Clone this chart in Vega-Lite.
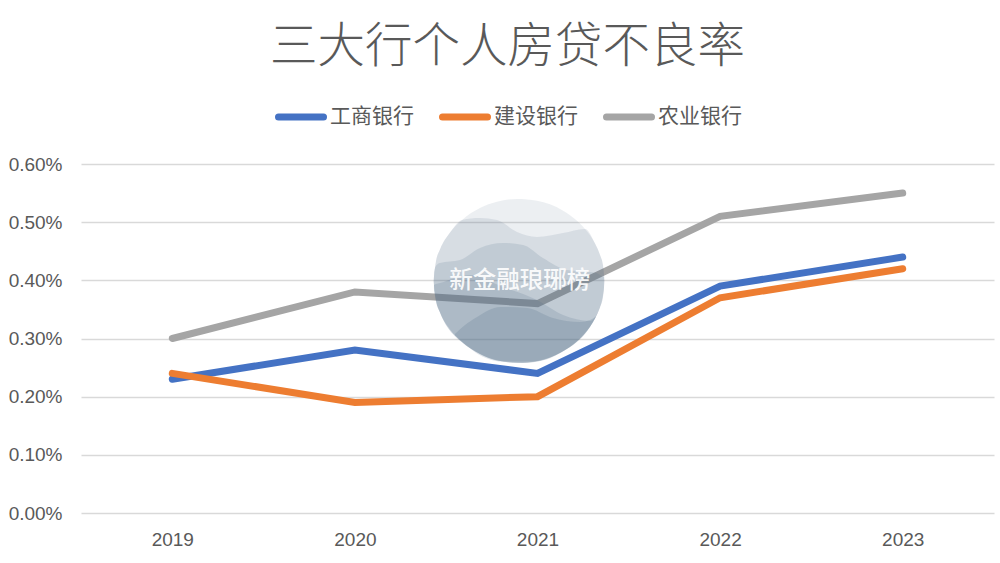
{"$schema":"https://vega.github.io/schema/vega-lite/v6.json","width":913,"height":349,"autosize":{"type":"none"},"padding":{"left":81,"top":164,"right":6,"bottom":50},"background":"white",
"title":{"text":"三大行个人房贷不良率","font":"Noto Sans CJK SC","fontSize":47.5,"fontWeight":300,"color":"#595959","anchor":"middle","dx":-30,"offset":20},
"config":{"view":{"stroke":null}},
"datasets":{
"series":[
{"year":2019,"bank":"工商银行","rate":0.23},{"year":2020,"bank":"工商银行","rate":0.28},{"year":2021,"bank":"工商银行","rate":0.24},{"year":2022,"bank":"工商银行","rate":0.39},{"year":2023,"bank":"工商银行","rate":0.44},
{"year":2019,"bank":"建设银行","rate":0.24},{"year":2020,"bank":"建设银行","rate":0.19},{"year":2021,"bank":"建设银行","rate":0.20},{"year":2022,"bank":"建设银行","rate":0.37},{"year":2023,"bank":"建设银行","rate":0.42},
{"year":2019,"bank":"农业银行","rate":0.30},{"year":2020,"bank":"农业银行","rate":0.38},{"year":2021,"bank":"农业银行","rate":0.36},{"year":2022,"bank":"农业银行","rate":0.51},{"year":2023,"bank":"农业银行","rate":0.55}],
"hills":[
{"layer":"base","x":2020.4305,"top":0.3989,"bottom":0.3989},{"layer":"base","x":2020.444,"top":0.4327,"bottom":0.3651},{"layer":"base","x":2020.466,"top":0.4528,"bottom":0.3450},{"layer":"base","x":2020.521,"top":0.4822,"bottom":0.3156},{"layer":"base","x":2020.587,"top":0.5039,"bottom":0.2939},{"layer":"base","x":2020.685,"top":0.5244,"bottom":0.2734},{"layer":"base","x":2020.778,"top":0.5351,"bottom":0.2627},{"layer":"base","x":2020.888,"top":0.5399,"bottom":0.2579},{"layer":"base","x":2020.997,"top":0.5367,"bottom":0.2611},{"layer":"base","x":2021.140,"top":0.5197,"bottom":0.2781},{"layer":"base","x":2021.205,"top":0.5054,"bottom":0.2924},{"layer":"base","x":2021.260,"top":0.4884,"bottom":0.3094},{"layer":"base","x":2021.315,"top":0.4635,"bottom":0.3343},{"layer":"base","x":2021.342,"top":0.4441,"bottom":0.3537},{"layer":"base","x":2021.359,"top":0.4253,"bottom":0.3725},{"layer":"base","x":2021.367,"top":0.3989,"bottom":0.3989},
{"layer":"a","x":2020.4305,"top":0.3989,"bottom":0.3989},{"layer":"a","x":2020.444,"top":0.4327,"bottom":0.3650},{"layer":"a","x":2020.466,"top":0.4528,"bottom":0.3449},{"layer":"a","x":2020.521,"top":0.4821,"bottom":0.3156},{"layer":"a","x":2020.587,"top":0.5039,"bottom":0.2938},{"layer":"a","x":2020.685,"top":0.5072,"bottom":0.2734},{"layer":"a","x":2020.778,"top":0.5037,"bottom":0.2626},{"layer":"a","x":2020.888,"top":0.4831,"bottom":0.2579},{"layer":"a","x":2020.997,"top":0.4745,"bottom":0.2610},{"layer":"a","x":2021.140,"top":0.4814,"bottom":0.2780},{"layer":"a","x":2021.260,"top":0.4884,"bottom":0.3093},{"layer":"a","x":2021.315,"top":0.4634,"bottom":0.3343},{"layer":"a","x":2021.342,"top":0.4441,"bottom":0.3536},{"layer":"a","x":2021.359,"top":0.4253,"bottom":0.3724},{"layer":"a","x":2021.367,"top":0.3989,"bottom":0.3989},
{"layer":"b","x":2020.433,"top":0.4143,"bottom":0.3840},{"layer":"b","x":2020.444,"top":0.4250,"bottom":0.3650},{"layer":"b","x":2020.466,"top":0.4298,"bottom":0.3449},{"layer":"b","x":2020.576,"top":0.4350,"bottom":0.2968},{"layer":"b","x":2020.685,"top":0.4556,"bottom":0.2734},{"layer":"b","x":2020.811,"top":0.4642,"bottom":0.2603},{"layer":"b","x":2020.921,"top":0.4607,"bottom":0.2579},{"layer":"b","x":2021.030,"top":0.4384,"bottom":0.2637},{"layer":"b","x":2021.162,"top":0.4178,"bottom":0.2823},{"layer":"b","x":2021.288,"top":0.4143,"bottom":0.3204},{"layer":"b","x":2021.326,"top":0.4120,"bottom":0.3412},{"layer":"b","x":2021.348,"top":0.4080,"bottom":0.3593},{"layer":"b","x":2021.364,"top":0.4057,"bottom":0.3840},
{"layer":"c","x":2020.433,"top":0.3920,"bottom":0.3840},{"layer":"c","x":2020.444,"top":0.3935,"bottom":0.3650},{"layer":"c","x":2020.466,"top":0.3954,"bottom":0.3449},{"layer":"c","x":2020.630,"top":0.4092,"bottom":0.2834},{"layer":"c","x":2020.811,"top":0.3885,"bottom":0.2603},{"layer":"c","x":2020.997,"top":0.3662,"bottom":0.2610},{"layer":"c","x":2021.140,"top":0.3404,"bottom":0.2780},{"layer":"c","x":2021.288,"top":0.3301,"bottom":0.3204},{"layer":"c","x":2021.331,"top":0.3449,"bottom":0.3449},
{"layer":"d","x":2020.548,"top":0.3077,"bottom":0.3054},{"layer":"d","x":2020.603,"top":0.3232,"bottom":0.2900},{"layer":"d","x":2020.669,"top":0.3370,"bottom":0.2761},{"layer":"d","x":2020.795,"top":0.3542,"bottom":0.2614},{"layer":"d","x":2020.943,"top":0.3524,"bottom":0.2585},{"layer":"d","x":2021.085,"top":0.3352,"bottom":0.2696},{"layer":"d","x":2021.233,"top":0.3284,"bottom":0.3001},{"layer":"d","x":2021.288,"top":0.3318,"bottom":0.3204},{"layer":"d","x":2021.320,"top":0.3375,"bottom":0.3375}],
"badge":[{"x":2020.903,"y":0.3989,"label":"新金融琅琊榜"}]
},
"layer":[
{"data":{"name":"series"},"mark":{"type":"line","strokeWidth":7,"strokeCap":"round","strokeJoin":"miter"},
"encoding":{
"x":{"field":"year","type":"quantitative","scale":{"domain":[2018.5,2023.5],"nice":false,"zero":false},"axis":{"values":[2019,2020,2021,2022,2023],"format":"d","title":null,"grid":false,"domain":false,"ticks":false,"labelFont":"Liberation Sans","labelFontSize":19,"labelColor":"#595959","labelPadding":17}},
"y":{"field":"rate","type":"quantitative","scale":{"domain":[0,0.6],"nice":false},"axis":{"values":[0,0.1,0.2,0.3,0.4,0.5,0.6],"labelExpr":"format(datum.value/100,'.2%')","title":null,"grid":true,"gridColor":"#D9D9D9","gridWidth":1.5,"domain":false,"ticks":false,"labelFont":"Liberation Sans","labelFontSize":19,"labelColor":"#595959","labelPadding":19}},
"color":{"field":"bank","type":"nominal","scale":{"domain":["工商银行","建设银行","农业银行"],"range":["#4472C4","#ED7D31","#A5A5A5"]},
"legend":{"orient":"none","legendX":194,"legendY":-73,"direction":"horizontal","columns":3,"title":null,"symbolType":"stroke","symbolSize":2025,"symbolStrokeWidth":7,"labelFont":"Noto Sans CJK SC","labelFontSize":21,"labelColor":"#595959","labelOffset":3,"columnPadding":14,"encode":{"symbols":{"update":{"strokeCap":{"value":"round"}}}}}}}},
{"data":{"name":"hills"},"mark":{"type":"area","color":"#4f6c87","interpolate":"monotone"},
"encoding":{"x":{"field":"x","type":"quantitative"},"y":{"field":"top","type":"quantitative"},"y2":{"field":"bottom"},
"opacity":{"field":"layer","type":"nominal","scale":{"domain":["base","a","b","c","d"],"range":[0.11,0.2,0.19,0.32,0.29]},"legend":null}}},
{"data":{"name":"badge"},"mark":{"type":"text","font":"Noto Sans CJK SC","fontSize":23.5,"fontWeight":500,"color":"white","opacity":0.9,"align":"center","baseline":"middle"},
"encoding":{"x":{"field":"x","type":"quantitative"},"y":{"field":"y","type":"quantitative"},"text":{"field":"label"}}}
],
"resolve":{"scale":{"opacity":"independent"}}}
